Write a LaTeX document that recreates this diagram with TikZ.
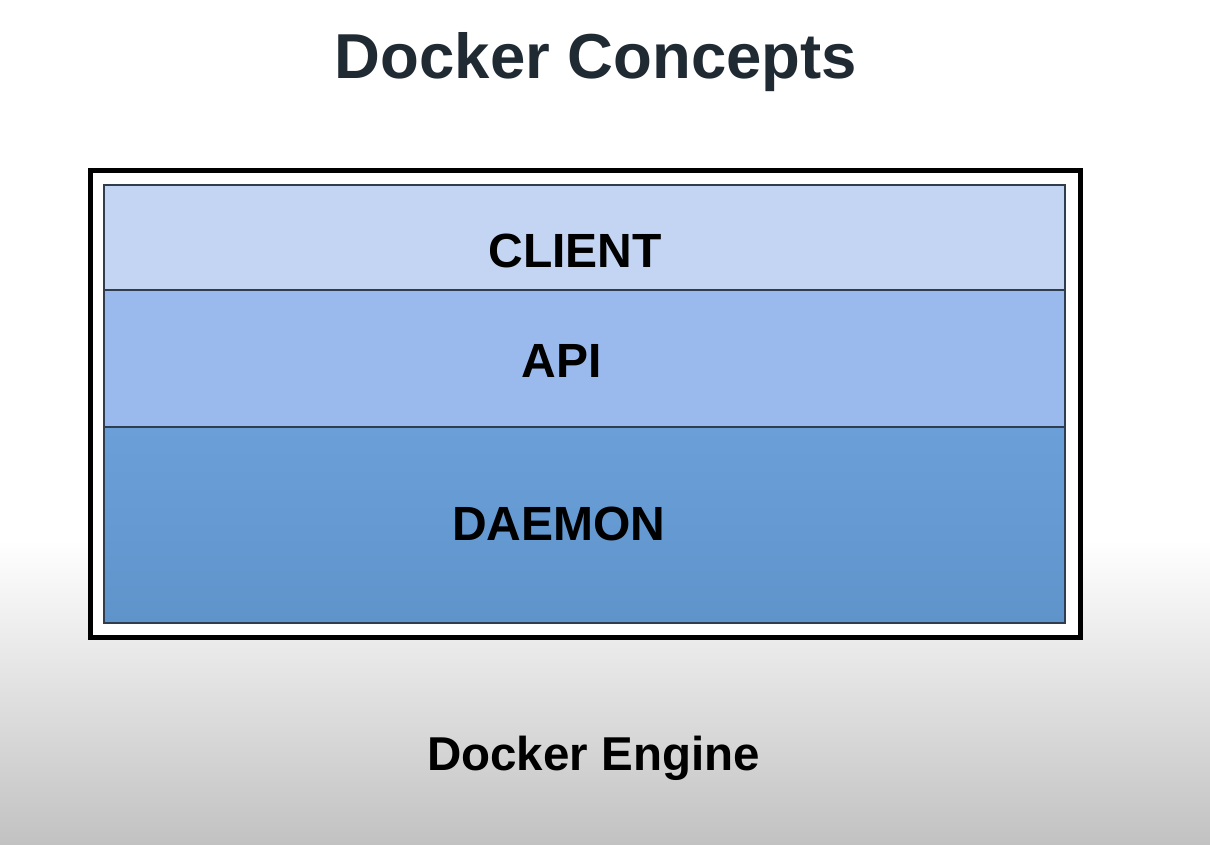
\documentclass[tikz,border=0pt]{standalone}
\usepackage{fontspec}
\setmainfont{Liberation Sans}
\definecolor{titlec}{HTML}{1F2A33}
\definecolor{clientc}{HTML}{C3D5F2}
\definecolor{apic}{HTML}{9AB9EC}
\definecolor{daemontop}{HTML}{6A9FD8}
\definecolor{daemonbot}{HTML}{5F94CB}
\definecolor{edgec}{HTML}{2F3D4F}
\definecolor{bgbot}{HTML}{C2C2C2}
\tikzset{
  layer/.style={draw=edgec, line width=1.6pt, inner sep=0pt, outer sep=0pt},
  layertext/.style={anchor=base, font=\bfseries\fontsize{48}{52}\selectfont, text=black, inner sep=0pt},
}
\begin{document}
\begin{tikzpicture}[x=1pt,y=-1pt]
\useasboundingbox (0,0) rectangle (1210,844);
\fill[white] (0,0) rectangle (1210,541);
\shade[top color=white, bottom color=bgbot] (0,540) rectangle (1210,844);
% title
\node[anchor=base, inner sep=0pt, text=titlec, font=\bfseries\fontsize{63.5}{68}\selectfont] (title) at (596,78) {Docker Concepts};
% outer frame
\draw[black, line width=5pt, fill=white] (90.5,170.5) rectangle (1080,637.5);
% layers
\draw[layer, fill=clientc] (104,185) rectangle (1065,290);
\draw[layer, fill=apic] (104,290) rectangle (1065,427);
\draw[layer, top color=daemontop, bottom color=daemonbot] (104,427) rectangle (1065,623);
\node[layertext] (client) at (575,267) {CLIENT};
\node[layertext] (api) at (562,377) {API};
\node[layertext] (daemon) at (559,540) {DAEMON};
% caption
\node[anchor=base, inner sep=0pt, text=black, font=\bfseries\fontsize{47.5}{52}\selectfont] (engine) at (593.5,770) {Docker Engine};
\end{tikzpicture}
\end{document}
